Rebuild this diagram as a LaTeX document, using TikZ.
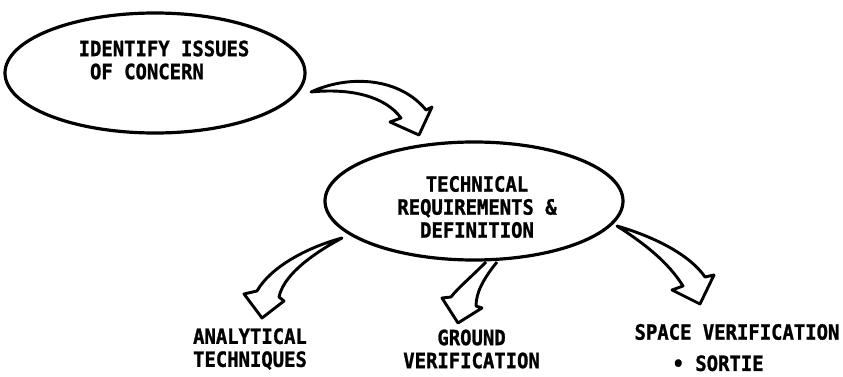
\documentclass[tikz,border=0pt]{standalone}
\usepackage{fontspec}
\setmonofont[FakeStretch=0.9,FakeBold=1.2]{DejaVu Sans Mono}
\usepackage{tikz}
\usetikzlibrary{positioning,shapes.geometric}
\tikzset{oval/.style={ellipse,draw,line width=3.2pt,inner sep=0pt},
	 lbl/.style={font=\ttfamily\bfseries\fontsize{21}{23}\selectfont,align=center,inner sep=0pt},
	 blk/.style={draw,line width=2.9pt,line join=round},
	 node distance = 1
	 }

\begin{document}
\begin{tikzpicture}[x=1pt,y=-1pt] % study flow: issues -> requirements -> three ways to verify
	\useasboundingbox (0,0) rectangle (843,377);
	\node[oval,minimum width=300pt,minimum height=120pt] (issues) at (155,73) {};
	\node[lbl,align=left] (issuestxt) at (164,60) {IDENTIFY ISSUES\\\ OF CONCERN};
	\node[oval,minimum width=298pt,minimum height=118pt] (tech) at (474,201) {};
	\node[lbl] (techtxt) at (477,207) {TECHNICAL\\REQUIREMENTS \&\\DEFINITION};
	\node[lbl] (anal) at (250,349) {ANALYTICAL\\TECHNIQUES};
	\node[lbl] (ground) [right=96pt of anal] {GROUND\\VERIFICATION};
	\node[lbl] (space) at (737,332) {SPACE VERIFICATION};
	\node[lbl] (sortie) [below=15pt of space.south west,anchor=north west,xshift=38pt] {\textbullet\ SORTIE};
	\coordinate (t1) at (311,92); \coordinate (t2) at (342,238);
	\coordinate (t3a) at (486,262); \coordinate (t3b) at (497,262); \coordinate (t4) at (617,226);
	\draw[blk] (t1) .. controls (350,74) and (400,78) .. (426,110) -- (432,107) -- (419,135) -- (390,122) -- (401,118) .. controls (385,96) and (350,88) .. (t1) -- cycle;
	\draw[blk] (t2) .. controls (305,248) and (270,268) .. (257,291) -- (244,294) -- (262,318) -- (284,301) -- (279,297) .. controls (283,278) and (305,258) .. (t2) -- cycle;
	\draw[blk] (t3a) .. controls (470,278) and (458,288) .. (451,297) -- (442,298) -- (458,323) -- (482,308) -- (476,306) .. controls (476,292) and (484,278) .. (t3b);
	\draw[blk] (t4) .. controls (655,237) and (690,255) .. (705,277) -- (714,275) -- (700,304) -- (672,290) -- (683,286) .. controls (668,262) and (645,244) .. (t4) -- cycle;
\end{tikzpicture}
\end{document}
